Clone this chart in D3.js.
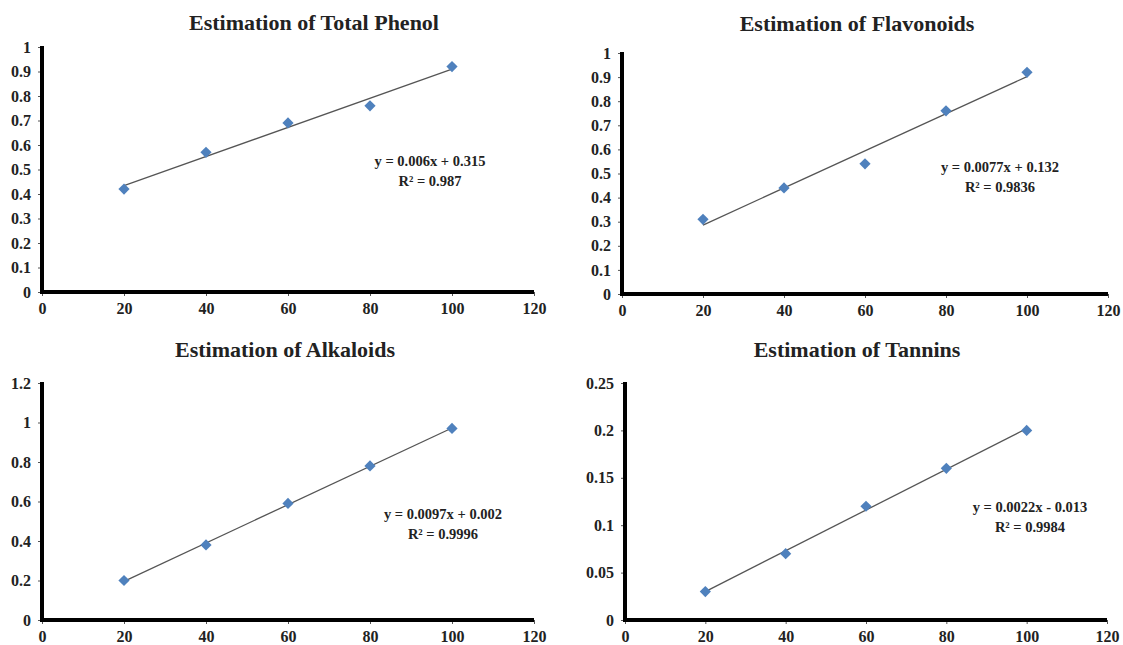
<!DOCTYPE html>
<html><head><meta charset="utf-8">
<script src="https://cdn.jsdelivr.net/npm/d3@7"></script>
<style>body{margin:0;background:#fff}svg{display:block}</style>
</head><body>
<svg id="c" width="1123" height="645"></svg>
<script>
const xValues = [20, 40, 60, 80, 100];
const xTicks = [0, 20, 40, 60, 80, 100, 120];
const titles = ["Estimation of Total Phenol", "Estimation of Flavonoids", "Estimation of Alkaloids", "Estimation of Tannins"];
const phenol = [0.42, 0.57, 0.69, 0.76, 0.92];
const flavonoids = [0.31, 0.44, 0.54, 0.76, 0.92];
const alkaloids = [0.20, 0.38, 0.59, 0.78, 0.97];
const tannins = [0.03, 0.07, 0.12, 0.16, 0.20];
const yMax = [1, 1, 1.2, 0.25];
const yTicks1 = [0, 0.1, 0.2, 0.3, 0.4, 0.5, 0.6, 0.7, 0.8, 0.9, 1];
const yTicks3 = [0, 0.2, 0.4, 0.6, 0.8, 1, 1.2];
const yTicks4 = [0, 0.05, 0.1, 0.15, 0.2, 0.25];
const equations = [
  ["y = 0.006x + 0.315", "R² = 0.987"],
  ["y = 0.0077x + 0.132", "R² = 0.9836"],
  ["y = 0.0097x + 0.002", "R² = 0.9996"],
  ["y = 0.0022x - 0.013", "R² = 0.9984"]
];

const panels = [
  {data: phenol, ticks: yTicks1, x0: 42, x1: 534, y0: 292, y1: 47, tx: 314, ty: 30, ex: 430, ey: 166},
  {data: flavonoids, ticks: yTicks1, x0: 622, x1: 1108, y0: 294, y1: 53, tx: 857, ty: 31, ex: 1000, ey: 172},
  {data: alkaloids, ticks: yTicks3, x0: 42, x1: 534, y0: 620, y1: 383, tx: 285, ty: 357, ex: 443, ey: 519},
  {data: tannins, ticks: yTicks4, x0: 625, x1: 1107, y0: 620, y1: 383, tx: 857, ty: 357, ex: 1030, ey: 512}
];

const svg = d3.select("#c");
const font = "'Liberation Serif','Times New Roman',serif";

panels.forEach((p, i) => {
  const g = svg.append("g");
  const x = d3.scaleLinear().domain([0, 120]).range([p.x0, p.x1]);
  const y = d3.scaleLinear().domain([0, yMax[i]]).range([p.y0, p.y1]);

  const xa = g.append("g").attr("transform", `translate(0,${p.y0})`)
    .call(d3.axisBottom(x).tickValues(xTicks).tickSize(4).tickPadding(7).tickFormat(d3.format("d")));
  const ya = g.append("g").attr("transform", `translate(${p.x0},0)`)
    .call(d3.axisLeft(y).tickValues(p.ticks).tickSize(4).tickPadding(7).tickFormat(d => String(+d.toFixed(2))));
  [xa, ya].forEach(a => {
    a.select(".domain").remove();
    a.selectAll(".tick line").attr("stroke", "#555").attr("stroke-width", 1);
    a.selectAll(".tick text").attr("font-family", font).attr("font-weight", "bold")
      .attr("font-size", 16).attr("fill", "#222");
  });
  // thick axis lines
  g.append("line").attr("x1", x(0)).attr("x2", x(0)).attr("y1", y(yMax[i]) - 1).attr("y2", y(0) + 2)
    .attr("stroke", "#000").attr("stroke-width", 4);
  g.append("line").attr("x1", x(0) - 2).attr("x2", x(120)).attr("y1", y(0)).attr("y2", y(0))
    .attr("stroke", "#000").attr("stroke-width", 4);

  // least-squares trendline from the data
  const mx = d3.mean(xValues), my = d3.mean(p.data);
  const slope = d3.sum(xValues.map((v, k) => (v - mx) * (p.data[k] - my))) / d3.sum(xValues.map(v => (v - mx) ** 2));
  const icpt = my - slope * mx;
  const xs = [d3.min(xValues), d3.max(xValues)];
  g.append("line").attr("x1", x(xs[0])).attr("y1", y(slope * xs[0] + icpt))
    .attr("x2", x(xs[1])).attr("y2", y(slope * xs[1] + icpt))
    .attr("stroke", "#555").attr("stroke-width", 1.3);

  // markers
  g.selectAll("path.pt").data(xValues.map((v, k) => [v, p.data[k]])).join("path")
    .attr("class", "pt")
    .attr("d", d3.symbol(d3.symbolDiamond2, 80)())
    .attr("transform", d => `translate(${x(d[0])},${y(d[1])})`)
    .attr("fill", "#4F81BD");

  g.append("text").attr("x", p.tx).attr("y", p.ty).attr("text-anchor", "middle")
    .attr("font-family", font).attr("font-weight", "bold").attr("font-size", 22).attr("fill", "#222")
    .text(titles[i]);

  equations[i].forEach((t, k) => {
    g.append("text").attr("x", p.ex).attr("y", p.ey + k * 20).attr("text-anchor", "middle")
      .attr("font-family", font).attr("font-weight", "bold").attr("font-size", 14.5).attr("fill", "#222")
      .text(t);
  });
});
</script>
</body></html>
